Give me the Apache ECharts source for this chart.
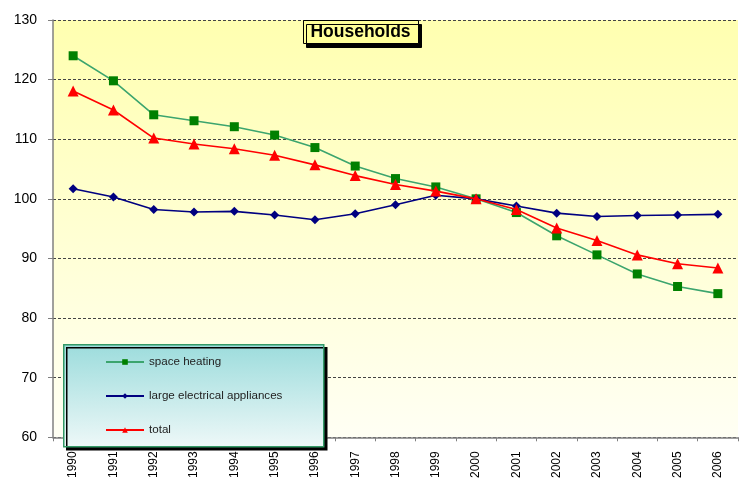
<!DOCTYPE html>
<html><head><meta charset="utf-8">
<script src="https://cdn.jsdelivr.net/npm/echarts@6/dist/echarts.min.js"></script>
<style>html,body{margin:0;padding:0;background:#fff}#c{width:742px;height:481px}</style>
</head><body><div id="c"></div>
<script>
const years = ['1990','1991','1992','1993','1994','1995','1996','1997','1998','1999','2000','2001','2002','2003','2004','2005','2006'];
const spaceHeating = [124.0,119.8,114.1,113.1,112.1,110.7,108.6,105.5,103.4,102.0,100.0,97.7,93.8,90.6,87.4,85.3,84.1];
const largeElectrical = [101.7,100.3,98.2,97.8,97.9,97.3,96.5,97.5,99.0,100.6,100.0,98.8,97.6,97.05,97.2,97.3,97.4];
const total = [118.1,114.9,110.2,109.2,108.4,107.3,105.7,103.9,102.4,101.3,100.0,98.2,95.1,93.0,90.6,89.1,88.4];
const yTicks = {min:60, max:130, interval:10};
const titleText = 'Households';

const chart = echarts.init(document.getElementById('c'));
const font = 'Arial, "Liberation Sans", sans-serif';
chart.setOption({
  animation:false,
  backgroundColor:'#fff',
  grid:{left:53, right:4, top:20, bottom:43, show:true, borderWidth:0,
    backgroundColor:new echarts.graphic.LinearGradient(0,0,0,1,[{offset:0,color:'#FFFFB0'},{offset:1,color:'#FFFFF4'}])},
  graphic:[
    {type:'rect', left:63, top:344, z:10,
      shape:{width:260, height:102},
      style:{fill:new echarts.graphic.LinearGradient(0,0,0,1,[{offset:0,color:'#9CDCDC'},{offset:1,color:'#EEF8F8'}]),
        stroke:'#339966', lineWidth:1.5, shadowColor:'#000', shadowOffsetX:3, shadowOffsetY:3, shadowBlur:0}},
    {type:'rect', left:303, top:20, z:10,
      shape:{width:115, height:23},
      style:{fill:'#FFFF99', stroke:'#000', lineWidth:1, shadowColor:'#000', shadowOffsetX:3, shadowOffsetY:4, shadowBlur:0}},
    {type:'text', x:360.5, y:32, z:11,
      style:{text:titleText, fill:'#000', font:'bold 17.5px Arial, "Liberation Sans", sans-serif', align:'center', verticalAlign:'middle'}}
  ],
  legend:{orient:'vertical', left:100, top:351, z:20, itemWidth:38, itemHeight:7, itemGap:22,
    textStyle:{fontFamily:font, fontSize:11.6, color:'#222'},
    data:['space heating','large electrical appliances','total']},
  xAxis:{type:'category', data:years, boundaryGap:true,
    axisLine:{lineStyle:{color:'#808080', width:1.5}},
    axisTick:{show:true, length:4, lineStyle:{color:'#808080'}},
    axisLabel:{rotate:90, fontFamily:font, fontSize:12, color:'#000', margin:14}},
  yAxis:{type:'value', min:yTicks.min, max:yTicks.max, interval:yTicks.interval,
    axisLine:{show:true, lineStyle:{color:'#808080', width:1.5}},
    axisTick:{show:true, length:5, lineStyle:{color:'#808080'}},
    axisLabel:{fontFamily:font, fontSize:14, color:'#000', margin:16},
    splitLine:{show:true, lineStyle:{color:'#444', type:[3,2], width:1}}},
  series:[
    {name:'space heating', type:'line', data:spaceHeating, symbol:'rect', symbolSize:9,
      itemStyle:{color:'#008000'}, lineStyle:{color:'#3CA56E', width:1.6}, z:3},
    {name:'large electrical appliances', type:'line', data:largeElectrical, symbol:'diamond', symbolSize:9,
      itemStyle:{color:'#000080'}, lineStyle:{color:'#000080', width:1.6}, z:4},
    {name:'total', type:'line', data:total, symbol:'triangle', symbolSize:11,
      itemStyle:{color:'#FF0000'}, lineStyle:{color:'#FF0000', width:1.6}, z:5}
  ]
});
</script></body></html>
